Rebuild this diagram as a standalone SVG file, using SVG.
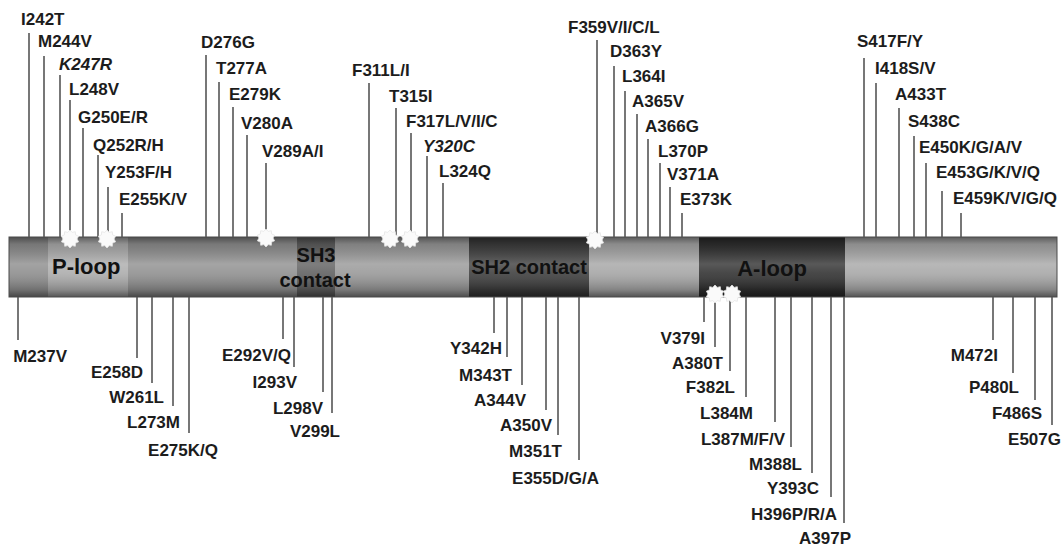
<svg xmlns="http://www.w3.org/2000/svg" xmlns:xlink="http://www.w3.org/1999/xlink" width="1064" height="546" viewBox="0 0 1064 546">
<style>
.m{font-family:"Liberation Sans",Arial,sans-serif;font-weight:bold;font-size:17px;fill:#1c1c1c}
.i{font-style:italic}
.e{text-anchor:end}
.d{font-family:"Liberation Sans",Arial,sans-serif;font-weight:bold;fill:#111}
.c line{stroke:#555;stroke-width:1.6}
</style>
<defs>
<linearGradient id="shade" x1="0" y1="0" x2="0" y2="1">
<stop offset="0" stop-color="#000" stop-opacity="0.45"/>
<stop offset="0.12" stop-color="#000" stop-opacity="0.15"/>
<stop offset="0.45" stop-color="#fff" stop-opacity="0.2"/>
<stop offset="0.6" stop-color="#fff" stop-opacity="0.12"/>
<stop offset="0.88" stop-color="#000" stop-opacity="0.2"/>
<stop offset="1" stop-color="#000" stop-opacity="0.5"/>
</linearGradient>
<filter id="glow" x="-50%" y="-50%" width="200%" height="200%">
<feGaussianBlur stdDeviation="0.7"/>
</filter>
<polygon id="star" points="0,-9 2.2,-6.6 5.3,-7.3 5.6,-4.1 8.6,-2.8 7,0 8.6,2.8 5.6,4.1 5.3,7.3 2.2,6.6 0,9 -2.2,6.6 -5.3,7.3 -5.6,4.1 -8.6,2.8 -7,0 -8.6,-2.8 -5.6,-4.1 -5.3,-7.3 -2.2,-6.6" fill="#fafafa" stroke="#e6e6e6" stroke-width="0.8" filter="url(#glow)"/>
</defs>
<rect width="1064" height="546" fill="#fff"/>

<g id="bar">
<rect x="9" y="237" width="39" height="60" fill="#8c8c8c"/>
<rect x="128" y="237" width="169" height="60" fill="#8e8e8e"/>
<rect x="335" y="237" width="134" height="60" fill="#979797"/>
<rect x="589" y="237" width="110" height="60" fill="#a4a4a4"/>
<rect x="845" y="237" width="212" height="60" fill="#a6a6a6"/>
</g>
<g id="ploop"><rect x="48" y="237" width="80" height="60" fill="#ababab"/></g>
<g id="sh3"><rect x="297" y="237" width="38" height="60" fill="#5e5e5e"/></g>
<g id="sh2"><rect x="469" y="237" width="120" height="60" fill="#3c3c3c"/></g>
<g id="aloop"><rect x="699" y="237" width="146" height="60" fill="#2f2f2f"/></g>
<rect x="9" y="237" width="1048" height="60" fill="url(#shade)" stroke="#4a4a4a" stroke-width="1"/>

<g id="domain-labels">
<text class="d" x="52" y="274" font-size="22">P-loop</text>
<text class="d" x="316" y="262" font-size="20" text-anchor="middle">SH3</text>
<text class="d" x="315" y="287" font-size="20" text-anchor="middle">contact</text>
<text class="d" x="529" y="274" font-size="20" text-anchor="middle">SH2 contact</text>
<text class="d" x="772" y="276" font-size="22" text-anchor="middle">A-loop</text>
</g>

<g id="connectors" class="c">
<line x1="29" y1="33" x2="29" y2="237"/>
<line x1="44" y1="56" x2="44" y2="237"/>
<line x1="60" y1="75" x2="60" y2="237"/>
<line x1="70" y1="100" x2="70" y2="237"/>
<line x1="83" y1="128" x2="83" y2="237"/>
<line x1="98" y1="155" x2="98" y2="237"/>
<line x1="108" y1="187" x2="108" y2="237"/>
<line x1="122" y1="213" x2="122" y2="237"/>
<line x1="206" y1="55" x2="206" y2="237"/>
<line x1="219" y1="82" x2="219" y2="237"/>
<line x1="233" y1="107" x2="233" y2="237"/>
<line x1="247" y1="135" x2="247" y2="237"/>
<line x1="266" y1="163" x2="266" y2="237"/>
<line x1="369" y1="83" x2="369" y2="237"/>
<line x1="396" y1="108" x2="396" y2="237"/>
<line x1="411" y1="133" x2="411" y2="237"/>
<line x1="427" y1="156" x2="427" y2="237"/>
<line x1="443" y1="183" x2="443" y2="237"/>
<line x1="597" y1="40" x2="597" y2="237"/>
<line x1="614" y1="66" x2="614" y2="237"/>
<line x1="625" y1="91" x2="625" y2="237"/>
<line x1="637" y1="114" x2="637" y2="237"/>
<line x1="648" y1="139" x2="648" y2="237"/>
<line x1="660" y1="163" x2="660" y2="237"/>
<line x1="670" y1="187" x2="670" y2="237"/>
<line x1="682" y1="213" x2="682" y2="237"/>
<line x1="864" y1="58" x2="864" y2="237"/>
<line x1="876" y1="83" x2="876" y2="237"/>
<line x1="899" y1="108" x2="899" y2="237"/>
<line x1="914" y1="136" x2="914" y2="237"/>
<line x1="926" y1="163" x2="926" y2="237"/>
<line x1="942" y1="191" x2="942" y2="237"/>
<line x1="961" y1="213" x2="961" y2="237"/>

<line x1="18" y1="297" x2="18" y2="340"/>
<line x1="137" y1="297" x2="137" y2="358"/>
<line x1="152" y1="297" x2="152" y2="383"/>
<line x1="173" y1="297" x2="173" y2="406"/>
<line x1="189" y1="297" x2="189" y2="433"/>
<line x1="283" y1="297" x2="283" y2="339"/>
<line x1="294" y1="297" x2="294" y2="367"/>
<line x1="323" y1="297" x2="323" y2="392"/>
<line x1="332" y1="297" x2="332" y2="413"/>
<line x1="494" y1="297" x2="494" y2="333"/>
<line x1="507" y1="297" x2="507" y2="357"/>
<line x1="522" y1="297" x2="522" y2="385"/>
<line x1="546" y1="297" x2="546" y2="410"/>
<line x1="558" y1="297" x2="558" y2="435"/>
<line x1="579" y1="297" x2="579" y2="460"/>
<line x1="704" y1="297" x2="704" y2="322"/>
<line x1="715" y1="297" x2="715" y2="347"/>
<line x1="730" y1="297" x2="730" y2="371"/>
<line x1="746" y1="297" x2="746" y2="397"/>
<line x1="775" y1="297" x2="775" y2="422"/>
<line x1="791" y1="297" x2="791" y2="447"/>
<line x1="812" y1="297" x2="812" y2="473"/>
<line x1="831" y1="297" x2="831" y2="497"/>
<line x1="844" y1="297" x2="844" y2="523"/>
<line x1="993" y1="297" x2="993" y2="340"/>
<line x1="1013" y1="297" x2="1013" y2="373"/>
<line x1="1035" y1="297" x2="1035" y2="400"/>
<line x1="1052" y1="297" x2="1052" y2="425"/>
</g>

<g id="stars">
<use xlink:href="#star" x="70" y="239"/>
<use xlink:href="#star" x="107" y="239"/>
<use xlink:href="#star" x="266" y="238"/>
<use xlink:href="#star" x="390" y="239"/>
<use xlink:href="#star" x="410" y="239"/>
<use xlink:href="#star" x="595" y="240"/>
<use xlink:href="#star" x="715" y="294"/>
<use xlink:href="#star" x="732" y="294"/>
</g>

<g id="top-labels">
<g id="I242T"><text class="m" x="21" y="25">I242T</text></g>
<g id="M244V"><text class="m" x="38" y="47">M244V</text></g>
<g id="K247R"><text class="m i" x="59" y="70">K247R</text></g>
<g id="L248V"><text class="m" x="69" y="95">L248V</text></g>
<g id="G250E"><text class="m" x="78" y="123">G250E/R</text></g>
<g id="Q252R"><text class="m" x="93" y="151">Q252R/H</text></g>
<g id="Y253F"><text class="m" x="105" y="178">Y253F/H</text></g>
<g id="E255K"><text class="m" x="119" y="205">E255K/V</text></g>
<g id="D276G"><text class="m" x="201" y="48">D276G</text></g>
<g id="T277A"><text class="m" x="216" y="74">T277A</text></g>
<g id="E279K"><text class="m" x="229" y="100">E279K</text></g>
<g id="V280A"><text class="m" x="241" y="129">V280A</text></g>
<g id="V289A"><text class="m" x="262" y="157">V289A/I</text></g>
<g id="F311L"><text class="m" x="352" y="76">F311L/I</text></g>
<g id="T315I"><text class="m" x="389" y="102">T315I</text></g>
<g id="F317L"><text class="m" x="406" y="127">F317L/V/I/C</text></g>
<g id="Y320C"><text class="m i" x="423" y="152">Y320C</text></g>
<g id="L324Q"><text class="m" x="439" y="177">L324Q</text></g>
<g id="F359V"><text class="m" x="568" y="33">F359V/I/C/L</text></g>
<g id="D363Y"><text class="m" x="610" y="57">D363Y</text></g>
<g id="L364I"><text class="m" x="622" y="82">L364I</text></g>
<g id="A365V"><text class="m" x="632" y="107">A365V</text></g>
<g id="A366G"><text class="m" x="645" y="132">A366G</text></g>
<g id="L370P"><text class="m" x="658" y="157">L370P</text></g>
<g id="V371A"><text class="m" x="667" y="180">V371A</text></g>
<g id="E373K"><text class="m" x="680" y="205">E373K</text></g>
<g id="S417F"><text class="m" x="857" y="47">S417F/Y</text></g>
<g id="I418S"><text class="m" x="875" y="74">I418S/V</text></g>
<g id="A433T"><text class="m" x="895" y="100">A433T</text></g>
<g id="S438C"><text class="m" x="908" y="127">S438C</text></g>
<g id="E450K"><text class="m" x="919" y="153">E450K/G/A/V</text></g>
<g id="E453G"><text class="m" x="936" y="178">E453G/K/V/Q</text></g>
<g id="E459K"><text class="m" x="953" y="204">E459K/V/G/Q</text></g>
</g>

<g id="bottom-labels">
<g id="M237V"><text class="m e" x="67" y="362">M237V</text></g>
<g id="E258D"><text class="m e" x="143" y="378">E258D</text></g>
<g id="W261L"><text class="m e" x="164" y="403">W261L</text></g>
<g id="L273M"><text class="m e" x="180" y="428">L273M</text></g>
<g id="E275K"><text class="m e" x="218" y="456">E275K/Q</text></g>
<g id="E292V"><text class="m e" x="291" y="361">E292V/Q</text></g>
<g id="I293V"><text class="m e" x="297" y="388">I293V</text></g>
<g id="L298V"><text class="m e" x="323" y="414">L298V</text></g>
<g id="V299L"><text class="m e" x="340" y="437">V299L</text></g>
<g id="Y342H"><text class="m e" x="502" y="354">Y342H</text></g>
<g id="M343T"><text class="m e" x="512" y="381">M343T</text></g>
<g id="A344V"><text class="m e" x="526" y="406">A344V</text></g>
<g id="A350V"><text class="m e" x="552" y="431">A350V</text></g>
<g id="M351T"><text class="m e" x="562" y="457">M351T</text></g>
<g id="E355D"><text class="m e" x="599" y="484">E355D/G/A</text></g>
<g id="V379I"><text class="m e" x="705" y="344">V379I</text></g>
<g id="A380T"><text class="m e" x="723" y="369">A380T</text></g>
<g id="F382L"><text class="m e" x="735" y="393">F382L</text></g>
<g id="L384M"><text class="m e" x="753" y="419">L384M</text></g>
<g id="L387M"><text class="m e" x="785" y="445">L387M/F/V</text></g>
<g id="M388L"><text class="m e" x="802" y="470">M388L</text></g>
<g id="Y393C"><text class="m e" x="819" y="494">Y393C</text></g>
<g id="H396P"><text class="m e" x="837" y="520">H396P/R/A</text></g>
<g id="A397P"><text class="m e" x="851" y="544">A397P</text></g>
<g id="M472I"><text class="m e" x="998" y="361">M472I</text></g>
<g id="P480L"><text class="m e" x="1019" y="393">P480L</text></g>
<g id="F486S"><text class="m e" x="1042" y="419">F486S</text></g>
<g id="E507G"><text class="m e" x="1061" y="445">E507G</text></g>
</g>
</svg>
